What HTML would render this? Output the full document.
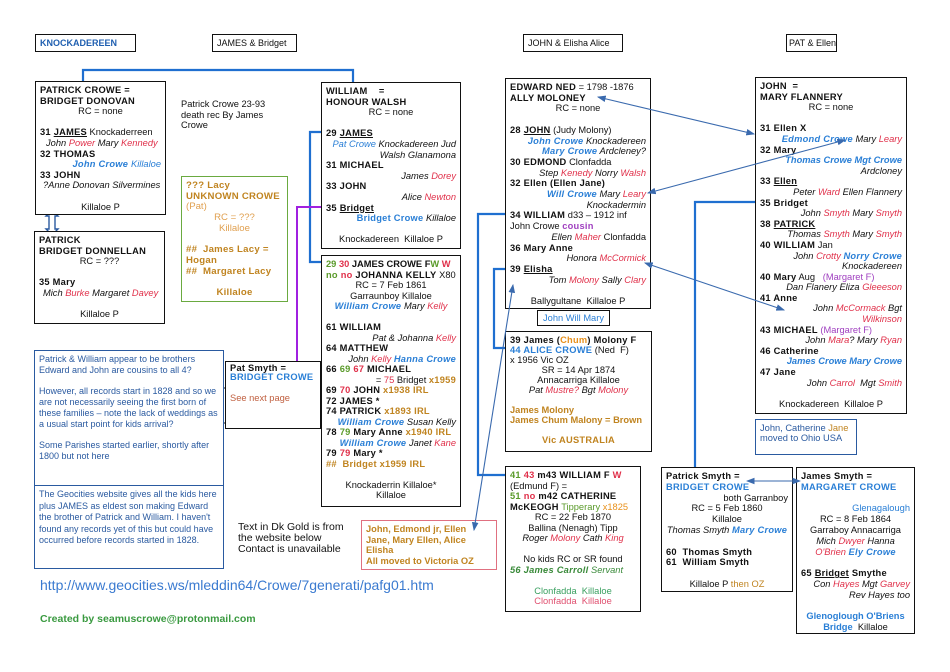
<!DOCTYPE html>
<html><head><meta charset="utf-8"><style>
*{margin:0;padding:0;box-sizing:border-box}
body{width:950px;height:672px;background:#fff;position:relative;overflow:hidden;font-family:"Liberation Sans",Arial,sans-serif;font-size:9.3px;line-height:10.6px;color:#111}
.b{position:absolute;border:1.3px solid #111;background:#fff;padding:3px 4px}
.b div{white-space:nowrap}
.t{position:absolute}
.c{text-align:center}.r{text-align:right}
.k,b{font-weight:bold;letter-spacing:.25px}
.i{font-style:italic}
.bl{color:#2a7fd6}.re{color:#e0304a}.go{color:#c08420}.gr{color:#5a9a2a}.pu{color:#a040c0}.or{color:#e8901a}
.u{text-decoration:underline}
.h{position:absolute;border:1.3px solid #111;font-size:9px;padding:3px 4px;height:18px;line-height:10px;white-space:nowrap}
.n{font-size:9px}
</style></head><body>
<svg width="950" height="672" style="position:absolute;left:0;top:0" xmlns="http://www.w3.org/2000/svg">
<g fill="none" stroke="#1f6fd0" stroke-width="2.2">
<path d="M83,82 V70 H353 V82"/>
<path d="M321,132 H310 V262 H321"/>
<path d="M505,214 H478 V475 H505"/>
<path d="M505,269 H494 V348 H505"/>
<path d="M755,202 H695 V467"/>
</g>
<path d="M297,362 V207 H321" fill="none" stroke="#a020e0" stroke-width="2"/>
<path d="M165,388 H225 M165,423 H225" stroke="#111" stroke-width="1"/>
<path d="M46,216 L52,210 L58,216 L55,216 L55,229 L58,229 L52,235 L46,229 L49,229 L49,216 Z" fill="#fff" stroke="#2a5aa0" stroke-width="1.4"/>
</svg>

<div class="h k" style="left:35px;top:34px;width:101px;color:#1f5fb0;letter-spacing:0">KNOCKADEREEN</div>
<div class="h" style="left:212px;top:34px;width:85px">JAMES &amp; Bridget</div>
<div class="h" style="left:523px;top:34px;width:100px">JOHN &amp; Elisha Alice</div>
<div class="h" style="left:786px;top:34px;width:51px;padding:3px 2px">PAT &amp; Ellen</div>

<div class="b" style="left:35px;top:81px;width:131px;height:134px">
<div class="k">PATRICK CROWE =<br>BRIDGET DONOVAN</div>
<div class="c">RC = none</div><br>
<div><b>31 <span class="u">JAMES</span></b> Knockaderreen</div>
<div class="i" style="padding-left:6px">John <span class="re">Power</span> Mary <span class="re">Kennedy</span></div>
<div class="k">32 THOMAS</div>
<div class="r i bl k">John Crowe <span style="font-weight:normal;letter-spacing:0">Killaloe</span></div>
<div class="k">33 JOHN</div>
<div class="i" style="padding-left:3px">?Anne Donovan Silvermines</div><br>
<div class="c">Killaloe P</div>
</div>

<div class="b" style="left:34px;top:231px;width:131px;height:93px">
<div class="k">PATRICK<br>BRIDGET DONNELLAN</div>
<div class="c">RC = ???</div><br>
<div class="k">35 Mary</div>
<div class="i" style="padding-left:4px">Mich <span class="re">Burke</span> Margaret <span class="re">Davey</span></div><br>
<div class="c">Killaloe P</div>
</div>

<div class="t" style="left:181px;top:99px;width:110px">Patrick Crowe 23-93<br>death rec By James<br>Crowe</div>

<div class="b go" style="left:181px;top:176px;width:107px;height:126px;border-color:#6aaa40;border-width:1.5px;padding:4px 4px;white-space:nowrap;line-height:10.7px;font-size:9.6px">
<div class="k">??? Lacy<br>UNKNOWN CROWE</div>
<div style="color:#e0a050">(Pat)</div>
<div class="c" style="color:#e0a050">RC = ???<br>Killaloe</div><br>
<div class="k">## &nbsp;James Lacy =<br>Hogan<br>## &nbsp;Margaret Lacy</div><br>
<div class="c k">Killaloe</div>
</div>

<div class="b" style="left:321px;top:82px;width:140px;height:167px">
<div class="k">WILLIAM &nbsp;&nbsp;&nbsp;=<br>HONOUR WALSH</div>
<div class="c">RC = none</div><br>
<div class="k">29 <span class="u">JAMES</span></div>
<div class="i r"><span class="bl">Pat Crowe</span> Knockadereen Jud<br>Walsh Glanamona</div>
<div class="k">31 MICHAEL</div>
<div class="i r">James <span class="re">Dorey</span></div>
<div class="k">33 JOHN</div>
<div class="i r">Alice <span class="re">Newton</span></div>
<div class="k">35 <span class="u">Bridget</span></div>
<div class="r"><b class="bl">Bridget Crowe</b> <i>Killaloe</i></div><br>
<div class="c">Knockadereen &nbsp;Killaloe P</div>
</div>

<div class="b" style="left:321px;top:255px;width:140px;height:252px;line-height:10.5px">
<div class="k" style="letter-spacing:0"><span class="gr">29</span> <span class="re">30</span> JAMES CROWE F<span class="gr">W</span> <span class="re">W</span></div>
<div class="k"><span class="gr">no</span> <span class="re">no</span> JOHANNA KELLY <span style="font-weight:normal;letter-spacing:0">X80</span></div>
<div class="c">RC = 7 Feb 1861<br>Garraunboy Killaloe</div>
<div class="c i"><b class="bl">William Crowe</b> Mary <span class="re">Kelly</span></div><br>
<div class="k">61 WILLIAM</div>
<div class="i r">Pat &amp; Johanna <span class="re">Kelly</span></div>
<div class="k">64 MATTHEW</div>
<div class="i r">John <span class="re">Kelly</span> <b class="bl">Hanna Crowe</b></div>
<div class="k">66 <span class="gr">69</span> <span class="re">67</span> MICHAEL</div>
<div class="r">= <span class="re">75</span> Bridget <b class="go">x1959</b></div>
<div class="k">69 <span class="re">70</span> JOHN <span class="go">x1938 IRL</span></div>
<div class="k">72 JAMES *</div>
<div class="k">74 PATRICK <span class="go">x1893 IRL</span></div>
<div class="i r"><b class="bl">William Crowe</b> Susan Kelly</div>
<div class="k">78 <span class="gr">79</span> Mary Anne <span class="go">x1940 IRL</span></div>
<div class="i r"><b class="bl">William Crowe</b> Janet <span class="re">Kane</span></div>
<div class="k">79 <span class="re">79</span> Mary *</div>
<div class="k go">## &nbsp;Bridget x1959 IRL</div><br>
<div class="c">Knockaderrin Killaloe*<br>Killaloe</div>
</div>

<div class="b" style="left:225px;top:361px;width:96px;height:68px;padding:2px 4px">
<div class="k" style="line-height:9px">Pat Smyth =</div>
<div class="k bl" style="line-height:9px">BRIDGET CROWE</div><br>
<div style="color:#c06040">See next page</div>
</div>

<div class="b n" style="left:34px;top:350px;width:190px;height:136px;border-color:#2a5aa0;color:#2a5aa0;line-height:10.8px">
Patrick &amp; William appear to be brothers Edward and John are cousins to all 4?<br><br>However, all records start in 1828 and so we are not necessarily seeing the first born of these families – note the lack of weddings as a usual start point for kids arrival?<br><br>Some Parishes started earlier, shortly after 1800 but not here
</div>
<div class="b n" style="left:34px;top:485px;width:190px;height:84px;border-color:#2a5aa0;color:#2a5aa0;line-height:11.5px">
The Geocities website gives all the kids here plus JAMES as eldest son making Edward the brother of Patrick and William. I haven't found any records yet of this but could have occurred before records started in 1828.
</div>

<div class="t" style="left:238px;top:522px;font-size:10.5px;line-height:11px">Text in Dk Gold is from<br>the website below<br>Contact is unavailable</div>
<div class="t" style="left:40px;top:577px;font-size:14px;line-height:16px;color:#3a7ad0">http://www.geocities.ws/mleddin64/Crowe/7generati/pafg01.htm</div>
<div class="t k" style="left:40px;top:614px;font-size:10.5px;color:#3a9a40;letter-spacing:0">Created by seamuscrowe@protonmail.com</div>

<div class="b k go" style="left:361px;top:520px;width:136px;height:50px;border-color:#e07080;line-height:10.5px;letter-spacing:0">
John, Edmond jr, Ellen<br>Jane, Mary Ellen, Alice<br>Elisha<br>All moved to Victoria OZ
</div>

<div class="b" style="left:505px;top:78px;width:146px;height:231px;line-height:10.7px">
<div><b>EDWARD NED</b> = 1798 -1876</div>
<div class="k">ALLY MOLONEY</div>
<div class="c">RC = none</div><br>
<div><b>28 <span class="u">JOHN</span></b> (Judy Molony)</div>
<div class="i r"><b class="bl">John Crowe</b> Knockadereen</div>
<div class="i r"><b class="bl">Mary Crowe</b> Ardcleney?</div>
<div><b>30 EDMOND</b> Clonfadda</div>
<div class="i r">Step <span class="re">Kenedy</span> Norry <span class="re">Walsh</span></div>
<div class="k">32 Ellen (Ellen Jane)</div>
<div class="i r"><b class="bl">Will Crowe</b> Mary <span class="re">Leary</span></div>
<div class="i r">Knockadermin</div>
<div><b>34 WILLIAM</b> d33 – 1912 inf</div>
<div>John Crowe <b class="pu">cousin</b></div>
<div class="r"><i>Ellen <span class="re">Maher</span></i> Clonfadda</div>
<div class="k">36 Mary Anne</div>
<div class="i r">Honora <span class="re">McCormick</span></div>
<div class="k">39 <span class="u">Elisha</span></div>
<div class="i r">Tom <span class="re">Molony</span> Sally <span class="re">Clary</span></div><br>
<div class="c">Ballygultane &nbsp;Killaloe P</div>
</div>

<div class="b bl c" style="left:537px;top:310px;width:73px;height:16px;padding:2px 1px;line-height:10px">John Will Mary</div>

<div class="b" style="left:505px;top:331px;width:147px;height:121px;line-height:10px">
<div class="k">39 James (<span class="or">Chum</span>) Molony F</div>
<div class="bl"><b>44 ALICE CROWE</b> <span style="color:#111">(Ned &nbsp;F)</span></div>
<div>x 1956 Vic OZ</div>
<div class="c">SR = 14 Apr 1874<br>Annacarriga Killaloe</div>
<div class="c i">Pat <span class="re">Mustre?</span> Bgt <span class="re">Molony</span></div><br>
<div class="k go" style="letter-spacing:0">James Molony<br>James Chum Malony = Brown</div><br>
<div class="c k go">Vic AUSTRALIA</div>
</div>

<div class="b" style="left:505px;top:466px;width:136px;height:146px;line-height:10.5px">
<div class="k"><span class="gr">41</span> <span class="re">43</span> m43 WILLIAM F <span class="re">W</span></div>
<div>(Edmund F) =</div>
<div class="k"><span class="gr">51</span> <span class="re">no</span> m42 CATHERINE</div>
<div><b>McKEOGH</b> <span class="gr">Tipperary</span> <span class="or">x1825</span></div>
<div class="c">RC = 22 Feb 1870<br>Ballina (Nenagh) Tipp</div>
<div class="c i">Roger <span class="re">Molony</span> Cath <span class="re">King</span></div><br>
<div class="c">No kids RC or SR found</div>
<div class="i" style="color:#3a8a3a"><b>56 James Carroll</b> Servant</div><br>
<div class="c" style="color:#3aa060">Clonfadda &nbsp;Killaloe</div>
<div class="c" style="color:#e05070">Clonfadda &nbsp;Killaloe</div>
</div>

<div class="b" style="left:755px;top:77px;width:152px;height:337px;line-height:10.6px">
<div class="k">JOHN &nbsp;=<br>MARY FLANNERY</div>
<div class="c">RC = none</div><br>
<div class="k">31 Ellen X</div>
<div class="i r"><b class="bl">Edmond Crowe</b> Mary <span class="re">Leary</span></div>
<div class="k">32 Mary</div>
<div class="i r"><b class="bl" style="letter-spacing:0">Thomas Crowe Mgt Crowe</b></div>
<div class="i r">Ardcloney</div>
<div class="k">33 <span class="u">Ellen</span></div>
<div class="i r">Peter <span class="re">Ward</span> Ellen Flannery</div>
<div class="k">35 Bridget</div>
<div class="i r">John <span class="re">Smyth</span> Mary <span class="re">Smyth</span></div>
<div class="k">38 <span class="u">PATRICK</span></div>
<div class="i r">Thomas <span class="re">Smyth</span> Mary <span class="re">Smyth</span></div>
<div><b>40 WILLIAM</b> Jan</div>
<div class="i r">John <span class="re">Crotty</span> <b class="bl">Norry Crowe</b></div>
<div class="i r">Knockadereen</div>
<div><b>40 Mary</b> Aug &nbsp;&nbsp;<span class="pu">(Margaret F)</span></div>
<div class="i r">Dan Flanery Eliza <span class="re">Gleeeson</span></div>
<div class="k">41 Anne</div>
<div class="i r">John <span class="re">McCormack</span> Bgt</div>
<div class="i r re">Wilkinson</div>
<div><b>43 MICHAEL</b> <span class="pu">(Margaret F)</span></div>
<div class="i r">John <span class="re">Mara</span>? Mary <span class="re">Ryan</span></div>
<div class="k">46 Catherine</div>
<div class="i r"><b class="bl" style="letter-spacing:0">James Crowe Mary Crowe</b></div>
<div class="k">47 Jane</div>
<div class="i r">John <span class="re">Carrol</span> &nbsp;Mgt <span class="re">Smith</span></div><br>
<div class="c">Knockadereen &nbsp;Killaloe P</div>
</div>

<div class="b" style="left:755px;top:419px;width:102px;height:36px;border-color:#2a5aa0;color:#2a5aa0;line-height:10px">
<div>John, Catherine <span class="go">Jane</span></div><div>moved to Ohio USA</div>
</div>

<div class="b" style="left:661px;top:467px;width:132px;height:125px;line-height:10.8px">
<div class="k">Patrick Smyth =</div>
<div class="k bl">BRIDGET CROWE</div>
<div class="r">both Garranboy</div>
<div class="c">RC = 5 Feb 1860<br>Killaloe</div>
<div class="c i">Thomas Smyth <b class="bl">Mary Crowe</b></div><br>
<div class="k">60 &nbsp;Thomas Smyth<br>61 &nbsp;William Smyth</div><br>
<div class="c">Killaloe P <span class="go">then OZ</span></div>
</div>

<div class="b" style="left:796px;top:467px;width:119px;height:167px;line-height:10.8px">
<div class="k">James Smyth =</div>
<div class="k bl">MARGARET CROWE</div><br>
<div class="r bl">Glenagalough</div>
<div class="c">RC = 8 Feb 1864<br>Garraboy Annacarriga</div>
<div class="c i">Mich <span class="re">Dwyer</span> Hanna</div>
<div class="c i"><span class="re">O'Brien</span> <b class="bl">Ely Crowe</b></div><br>
<div class="k">65 <span class="u">Bridget</span> Smythe</div>
<div class="i r">Con <span class="re">Hayes</span> Mgt <span class="re">Garvey</span></div>
<div class="i r">Rev Hayes too</div><br>
<div class="c"><b class="bl" style="letter-spacing:0">Glenoglough O'Briens<br>Bridge</b> &nbsp;Killaloe</div>
</div>

<svg width="950" height="672" style="position:absolute;left:0;top:0;pointer-events:none" xmlns="http://www.w3.org/2000/svg">
<defs><marker id="a" markerWidth="8" markerHeight="6" refX="7" refY="3" orient="auto"><path d="M0,0 L8,3 L0,6 z" fill="#3a6aae"/></marker>
<marker id="s" markerWidth="8" markerHeight="6" refX="1" refY="3" orient="auto"><path d="M8,0 L0,3 L8,6 z" fill="#3a6aae"/></marker></defs>
<g stroke="#3a6aae" stroke-width="1.1" fill="none">
<line x1="598" y1="97" x2="754" y2="134" marker-start="url(#s)" marker-end="url(#a)"/>
<line x1="648" y1="193" x2="845" y2="140" marker-start="url(#s)" marker-end="url(#a)"/>
<line x1="645" y1="263" x2="784" y2="310" marker-start="url(#s)" marker-end="url(#a)"/>
<line x1="513" y1="285" x2="474" y2="530" marker-start="url(#s)" marker-end="url(#a)"/>
<line x1="747" y1="481" x2="800" y2="481" marker-start="url(#s)" marker-end="url(#a)"/>
</g>
</svg>
</body></html>
